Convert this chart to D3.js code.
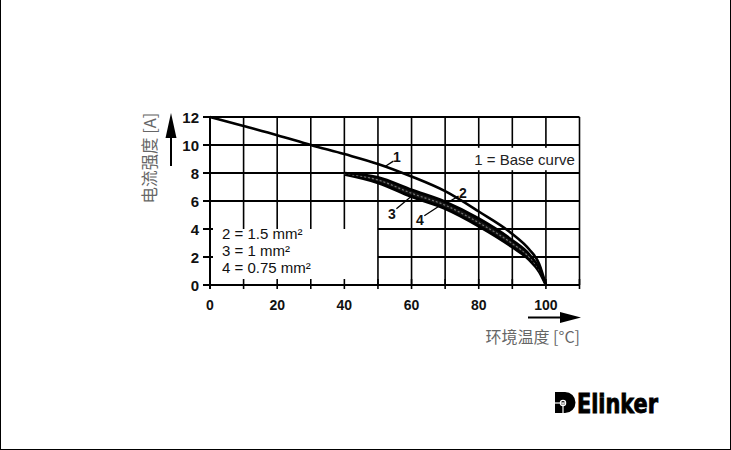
<!DOCTYPE html>
<html><head><meta charset="utf-8">
<script src="https://cdn.jsdelivr.net/npm/d3@7"></script>
<style>html,body{margin:0;padding:0;background:#fff}svg{display:block}</style>
</head><body>
<svg id="c" width="731" height="450"></svg>
<script>
// ---- data ----
const xTicks = [0, 20, 40, 60, 80, 100];
const yTicks = [0, 2, 4, 6, 8, 10, 12];
const gridX = [10, 20, 30, 40, 50, 60, 70, 80, 90, 100, 110];
const baseT = [0, 10, 20, 30, 40, 50, 60, 70, 80, 90, 95, 98, 100];
const baseI = [12, 11.35, 10.7, 10.0, 9.35, 8.65, 7.75, 6.7, 5.25, 3.65, 2.55, 1.5, 0];
const wireT = [40, 50, 60, 70, 80, 90, 95, 98, 100];
const wire15 = [8.0, 7.7, 6.8, 5.95, 4.75, 3.2, 2.2, 1.2, 0];
const wire10 = [7.95, 7.5, 6.55, 5.7, 4.45, 2.95, 2.0, 1.05, 0];
const wire075 = [7.9, 7.3, 6.3, 5.45, 4.2, 2.7, 1.8, 0.95, 0];
const legendLines = ["2 = 1.5 mm²", "3 = 1 mm²", "4 = 0.75 mm²"];
const baseLabel = "1 = Base curve";
const yLabel = "电流强度 [A]";
const xLabel = "环境温度 [°C]";

const svg = d3.select("#c");
const x = d3.scaleLinear().domain([0, 110]).range([210, 579.5]);
const y = d3.scaleLinear().domain([0, 12]).range([285, 117]);
const fontBold = "'Liberation Sans', Arial, sans-serif";

// frame
svg.append("line").attr("x1",0.5).attr("y1",0).attr("x2",0.5).attr("y2",450).attr("stroke","#000");
svg.append("line").attr("x1",730.5).attr("y1",0).attr("x2",730.5).attr("y2",450).attr("stroke","#000");
svg.append("line").attr("x1",0).attr("y1",449.5).attr("x2",731).attr("y2",449.5).attr("stroke","#000");

const g = svg.append("g");
// horizontal grid lines
[12, 10, 8, 6].forEach(v => {
  g.append("line").attr("x1", x(0) - 7).attr("x2", x(110)).attr("y1", y(v)).attr("y2", y(v))
    .attr("stroke", "#000").attr("stroke-width", 2);
});
[4, 2].forEach(v => {
  g.append("line").attr("x1", x(50)).attr("x2", x(110)).attr("y1", y(v)).attr("y2", y(v))
    .attr("stroke", "#000").attr("stroke-width", 2);
  g.append("line").attr("x1", x(0) - 7).attr("x2", x(0) + 3).attr("y1", y(v)).attr("y2", y(v))
    .attr("stroke", "#000").attr("stroke-width", 2);
});
// vertical grid lines
gridX.forEach(v => {
  const bottom = v < 50 ? y(4) : y(0);
  g.append("line").attr("x1", x(v)).attr("x2", x(v)).attr("y1", y(12)).attr("y2", bottom)
    .attr("stroke", "#000").attr("stroke-width", 1.6);
});
// x axis
g.append("line").attr("x1", x(0) - 7).attr("x2", x(110)).attr("y1", y(0)).attr("y2", y(0))
  .attr("stroke", "#000").attr("stroke-width", 2);
g.append("line").attr("x1", x(0)).attr("x2", x(0)).attr("y1", y(12)).attr("y2", y(0) + 4)
  .attr("stroke", "#000").attr("stroke-width", 2);
gridX.forEach(v => {
  g.append("line").attr("x1", x(v)).attr("x2", x(v)).attr("y1", y(0) - 6).attr("y2", y(0) + 4)
    .attr("stroke", "#000").attr("stroke-width", 1.6);
});

// base-curve label box
g.append("rect").attr("x", x(78)).attr("y", y(9.8)).attr("width", x(109.6) - x(78)).attr("height", y(8.2) - y(9.8))
  .attr("fill", "#fff");
g.append("text").attr("x", x(108.6)).attr("y", y(8.55)).attr("text-anchor", "end")
  .attr("font-family", fontBold).attr("font-size", 15).attr("fill", "#222").text(baseLabel);

// tick labels
g.selectAll(".yt").data(yTicks).join("text").attr("x", x(0) - 11).attr("y", d => y(d) + 5.5)
  .attr("text-anchor", "end").attr("font-family", fontBold).attr("font-weight", "bold")
  .attr("font-size", 15).attr("fill", "#111").text(d => d);
g.selectAll(".xt").data(xTicks).join("text").attr("x", d => x(d)).attr("y", y(0) + 25)
  .attr("text-anchor", "middle").attr("font-family", fontBold).attr("font-weight", "bold")
  .attr("font-size", 14).attr("fill", "#111").text(d => d);

// curves
const line = d3.line().x(d => x(d[0])).y(d => y(d[1])).curve(d3.curveMonotoneX);
const zip = (a, b) => a.map((t, i) => [t, b[i]]);
const band = d3.area().x(d => x(d[0])).y0(d => y(d[1])).y1(d => y(d[2])).curve(d3.curveMonotoneX);
g.append("path").attr("d", band(wireT.map((t, i) => [t, wire075[i], wire15[i]])))
  .attr("fill", "#111");
[[wire075, 2.8], [wire10, 1.2], [wire15, 2.6]].forEach(([s, w], i) => {
  g.append("path").attr("d", line(zip(wireT, s))).attr("fill", "none")
    .attr("stroke", i === 1 ? "#777" : "#000").attr("stroke-width", w)
    .attr("stroke-dasharray", i === 1 ? "2,2" : null);
});
g.append("path").attr("d", line(zip(baseT, baseI))).attr("fill", "none")
  .attr("stroke", "#000").attr("stroke-width", 2.6);

// curve labels with leaders
const labs = [
  {t: "1", lx: 397, ly: 162, p: [[52, 8.45], [54.6, 8.85]]},
  {t: "2", lx: 463, ly: 198, p: [[71.5, 6.0], [74, 6.35]]},
  {t: "3", lx: 392, ly: 219, p: [[55.5, 5.45], [60.5, 6.45]]},
  {t: "4", lx: 420, ly: 225, p: [[63.8, 4.95], [68.6, 5.7]]}
];
labs.forEach(l => {
  g.append("line").attr("x1", x(l.p[0][0])).attr("y1", y(l.p[0][1])).attr("x2", x(l.p[1][0])).attr("y2", y(l.p[1][1]))
    .attr("stroke", "#000").attr("stroke-width", 1.3);
  g.append("text").attr("x", l.lx).attr("y", l.ly).attr("text-anchor", "middle")
    .attr("font-family", fontBold).attr("font-weight", "bold").attr("font-size", 14).attr("fill", "#111").text(l.t);
});

// legend text
legendLines.forEach((s, i) => {
  g.append("text").attr("x", 222).attr("y", 239 + i * 17)
    .attr("font-family", fontBold).attr("font-size", 15).attr("fill", "#111").text(s);
});

// axis labels & arrows
svg.append("text").attr("transform", "translate(156,158) rotate(-90)").attr("text-anchor", "middle")
  .attr("font-family", "'Noto Sans CJK SC', sans-serif").attr("font-size", 16.5).attr("fill", "#666").text(yLabel);
svg.append("line").attr("x1", 171).attr("x2", 171).attr("y1", 166).attr("y2", 130).attr("stroke", "#000").attr("stroke-width", 2);
svg.append("path").attr("d", "M171,113 L176.5,138 L165.5,138 Z").attr("fill", "#000");
svg.append("line").attr("x1", 528).attr("x2", 565).attr("y1", 317.5).attr("y2", 317.5).attr("stroke", "#000").attr("stroke-width", 2);
svg.append("path").attr("d", "M581,317.5 L560,312 L560,323 Z").attr("fill", "#000");
svg.append("text").attr("x", 580).attr("y", 343).attr("text-anchor", "end")
  .attr("font-family", "'Noto Sans CJK SC', sans-serif").attr("font-size", 16).attr("fill", "#666").text(xLabel);

// logo
const lg = svg.append("g");
lg.append("path").attr("d", "M555,392 L565,392 A10.5,10.5 0 0 1 575.5,402.5 A10.5,10.5 0 0 1 565,413 L555,413 Z").attr("fill", "#000");
lg.append("circle").attr("cx", 563).attr("cy", 403).attr("r", 2.6).attr("fill", "none").attr("stroke", "#fff").attr("stroke-width", 1.3);
lg.append("line").attr("x1", 555).attr("x2", 566).attr("y1", 403).attr("y2", 403).attr("stroke", "#fff").attr("stroke-width", 1.2);
lg.append("line").attr("x1", 563).attr("x2", 563).attr("y1", 403).attr("y2", 413).attr("stroke", "#fff").attr("stroke-width", 1.2);
lg.append("text").attr("x", 577).attr("y", 413).attr("font-family", "'DejaVu Sans Condensed', 'DejaVu Sans', sans-serif")
  .attr("font-weight", "bold").attr("font-size", 26).attr("textLength", 81).attr("lengthAdjust", "spacingAndGlyphs")
  .attr("fill", "#000").attr("stroke", "#000").attr("stroke-width", 0.8).text("Elinker");
</script>
</body></html>
